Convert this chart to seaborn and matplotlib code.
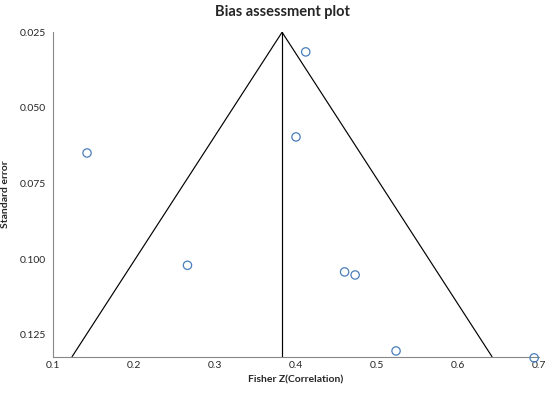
import numpy as np
import pandas as pd
import matplotlib
matplotlib.use("Agg")
import matplotlib.pyplot as plt
import seaborn as sns
from matplotlib.ticker import FormatStrFormatter

# study estimates (Fisher Z) and their standard errors
fisher_z = [0.412, 0.400, 0.142, 0.266, 0.460, 0.473, 0.5235, 0.694]
std_err = [0.0315, 0.0596, 0.0649, 0.1020, 0.1042, 0.1052, 0.1303, 0.1326]

# funnel outline: left edge, apex, right edge
funnel_x = [0.1235, 0.3828, 0.642]
funnel_y = [0.1322, 0.025, 0.1322]
# pooled estimate line
pooled_x = [0.3828, 0.3828]
pooled_y = [0.025, 0.1322]

y_ticks = [0.025, 0.050, 0.075, 0.100, 0.125]
x_ticks = [0.1, 0.2, 0.3, 0.4, 0.5, 0.6, 0.7]

df = pd.DataFrame({"z": fisher_z, "se": std_err})
df_funnel = pd.DataFrame({"x": funnel_x, "y": funnel_y, "g": 0})
df_pooled = pd.DataFrame({"x": pooled_x, "y": pooled_y, "g": 0})

sns.set_style("white")
plt.rcParams["font.family"] = ["Lato", "DejaVu Sans"]

fig = plt.figure(figsize=(5.5, 3.93), dpi=100)
ax = fig.add_axes([0.0964, 0.0924, 0.8836, 0.8256])

sns.lineplot(data=df_funnel, x="x", y="y", sort=False, estimator=None,
             color="black", linewidth=0.85, ax=ax, legend=False)
sns.lineplot(data=df_pooled, x="x", y="y", sort=False, estimator=None,
             color="black", linewidth=0.85, ax=ax, legend=False)
sns.scatterplot(data=df, x="z", y="se", marker="o", s=36,
                facecolor="none", edgecolor="#4a7ebb", linewidth=0.9,
                ax=ax, zorder=5, clip_on=False)

ax.set_xlim(0.1, 0.7)
ax.set_ylim(0.1322, 0.025)
ax.set_xticks(x_ticks)
ax.set_yticks(y_ticks)
ax.yaxis.set_major_formatter(FormatStrFormatter("%.3f"))
ax.xaxis.set_major_formatter(FormatStrFormatter("%.1f"))

for s in ["top", "right"]:
    ax.spines[s].set_visible(False)
for s in ["left", "bottom"]:
    ax.spines[s].set_color("#888888")
    ax.spines[s].set_linewidth(0.8)

ax.tick_params(axis="both", which="major", direction="out", length=3,
               width=0.7, color="#888888", labelsize=7.5, pad=2)
ax.tick_params(axis="x", length=0, pad=3)

ax.set_xlabel("Fisher Z(Correlation)", fontsize=7.5, fontweight="bold", labelpad=4)
ax.set_ylabel("Standard error", fontsize=7.5, fontweight="bold")
ax.yaxis.set_label_coords(-0.088, 0.5)
fig.suptitle("Bias assessment plot", x=0.513, y=0.987, fontsize=10.5, fontweight="bold")

fig.savefig("out.png", dpi=100)
